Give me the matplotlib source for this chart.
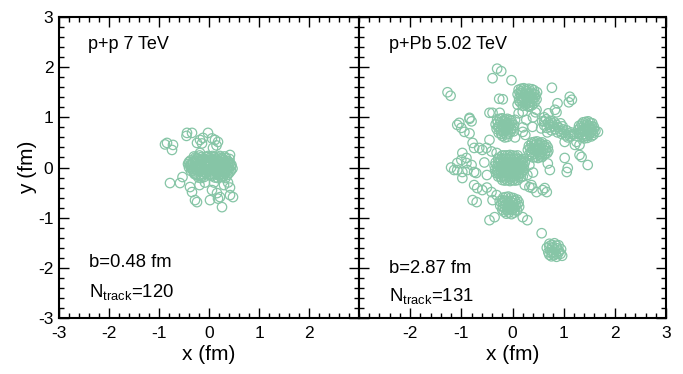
import matplotlib
matplotlib.use("Agg")
import matplotlib.pyplot as plt
from matplotlib.ticker import MultipleLocator

plt.rcParams['font.family'] = ['Liberation Sans', 'DejaVu Sans']
plt.rcParams['mathtext.fontset'] = 'custom'
plt.rcParams['mathtext.rm'] = 'Liberation Sans'
plt.rcParams['axes.unicode_minus'] = False

# ---------------- data (fm) ----------------
pp_core = [(-0.30,0.22),(-0.19,0.24),(-0.06,0.21),(0.07,0.23),(0.19,0.20),(0.31,0.22),
    (-0.37,0.14),(-0.25,0.16),(-0.13,0.13),(-0.02,0.15),(0.11,0.14),(0.23,0.16),(0.35,0.13),(0.41,0.17),
    (-0.42,0.07),(-0.32,0.09),(-0.21,0.06),(-0.08,0.08),(0.03,0.07),(0.15,0.09),(0.27,0.06),(0.38,0.08),(0.45,0.05),
    (-0.40,0.00),(-0.28,0.02),(-0.16,-0.01),(-0.05,0.01),(0.06,0.00),(0.18,0.02),(0.29,-0.01),(0.40,0.01),(0.47,-0.02),
    (-0.36,-0.07),(-0.24,-0.05),(-0.12,-0.08),(-0.01,-0.06),(0.10,-0.07),(0.22,-0.05),(0.33,-0.08),(0.44,-0.06),
    (-0.29,-0.13),(-0.17,-0.14),(-0.06,-0.12),(0.05,-0.14),(0.16,-0.12),(0.27,-0.13),(0.37,-0.15),
    (-0.21,-0.20),(-0.10,-0.19),(0.12,-0.20),(0.24,-0.19),(0.33,-0.21),
    (-0.24,0.19),(-0.12,0.18),(0.01,0.19),(0.13,0.18),(0.25,0.19),
    (-0.33,0.11),(-0.19,0.10),(-0.04,0.11),(0.09,0.11),(0.21,0.12),(0.32,0.10),
    (-0.36,0.04),(-0.10,0.04),(0.12,0.04),(0.34,0.04),
    (-0.33,-0.03),(-0.20,-0.03),(0.00,-0.03),(0.24,-0.02),(0.36,-0.03),
    (-0.30,-0.10),(-0.07,-0.10),(0.15,-0.09),(0.29,-0.10),(0.41,-0.10),
    (-0.15,-0.17),(0.06,-0.17),(0.20,-0.16)]
pp_core2 = [(-0.27,0.20),(-0.15,0.21),(-0.02,0.23),(0.10,0.21),(0.22,0.23),(0.34,0.19),
    (-0.40,0.11),(-0.28,0.13),(-0.16,0.15),(-0.06,0.13),(0.06,0.16),(0.17,0.14),(0.29,0.15),(0.39,0.12),
    (-0.38,0.05),(-0.26,0.07),(-0.14,0.06),(-0.01,0.05),(0.10,0.07),(0.21,0.05),(0.32,0.07),(0.42,0.09),
    (-0.35,-0.01),(-0.22,0.00),(-0.10,-0.02),(0.01,0.02),(0.12,-0.01),(0.24,0.01),(0.35,-0.02),(0.44,0.02),
    (-0.32,-0.06),(-0.19,-0.08),(-0.07,-0.05),(0.04,-0.08),(0.16,-0.06),(0.27,-0.07),(0.39,-0.05),
    (-0.25,-0.15),(-0.12,-0.13),(0.00,-0.15),(0.10,-0.13),(0.22,-0.14),(0.32,-0.12),
    (-0.16,-0.21),(0.18,-0.21),(0.28,-0.19)]
pp_halo = [(-0.84,0.49),(-0.88,0.46),(-0.72,0.45),(-0.74,0.35),
    (-0.44,0.69),(-0.34,0.69),(-0.45,0.63),(-0.24,0.49),(-0.18,0.55),(-0.12,0.59),(-0.02,0.69),
    (0.12,0.55),(0.18,0.51),(-0.14,0.48),(0.06,0.58),(-0.18,0.29),(0.08,0.39),(-0.04,0.21),(0.42,0.25),(0.15,0.44),
    (-0.78,-0.31),(-0.58,-0.31),(-0.53,-0.19),(-0.38,-0.39),(-0.34,-0.49),(-0.28,-0.65),(-0.24,-0.69),
    (0.06,-0.45),(0.16,-0.51),(0.22,-0.59),(0.26,-0.79),(0.42,-0.55),(0.48,-0.59),(0.02,-0.65),(0.18,-0.62),
    (0.42,-0.40),(0.30,-0.35),(0.10,-0.30),(-0.08,-0.30),(0.38,-0.30),(-0.19,-0.35)]

ppb_scatter = [(-1.27,1.50),(-1.21,1.43),(-0.30,1.97),(-0.22,1.92),(-0.39,1.78),(-0.02,1.74),
    (0.77,1.59),(-0.26,1.37),(-0.19,1.36),(1.12,1.41),(1.16,1.35),(1.10,1.30),(0.88,1.28),(0.83,1.15),(0.86,1.10),
    (-0.45,1.09),(-0.84,0.99),(-1.04,0.89),(-0.39,1.09),(-0.25,1.09),
    (-1.08,0.85),(-1.00,0.79),(-0.84,0.97),(-0.80,0.92),(-0.94,0.71),(-0.84,0.68),
    (-0.78,0.49),(-0.75,0.39),(-0.65,0.39),(-0.59,0.35),(-0.51,0.39),
    (-0.98,0.29),(-0.90,0.19),(-1.00,0.15),(-1.08,0.09),(-0.90,0.09),(-0.80,0.05),(-1.14,-0.05),(-1.08,-0.05),
    (-0.98,-0.09),(-0.88,-0.05),(-0.75,-0.09),(-0.98,-0.21),(-0.71,-0.11),(-1.20,0.00),
    (-0.69,-0.41),(-0.59,-0.45),(-0.78,-0.65),(-0.41,-0.49),(-0.31,-0.55),(-0.39,-0.65),(-0.75,-0.35),(-0.50,-0.40),(-0.70,-0.69),
    (-0.45,-1.05),(-0.35,-0.99),(0.20,-0.99),(0.29,-1.05),
    (0.39,-0.41),(0.47,-0.49),(0.63,-0.41),(0.67,-0.49),(0.24,-0.35),(0.29,-0.15),(0.37,-0.35),(0.33,-0.39),(0.59,-0.45),
    (0.57,-1.31),(0.73,-0.05),(0.69,0.08),(1.06,-0.09),(1.08,-0.01),(1.47,0.05),(1.31,0.25),(1.02,0.19),
    (1.02,0.51),(1.31,0.45),(1.35,0.21),(1.22,0.45),(1.25,0.51),(1.67,0.71),
    (0.62,1.00),(0.70,1.08),(0.45,1.10),(0.40,1.00),(0.12,1.08),(0.05,0.95),
    (-0.45,0.55),(-0.41,0.32),(-0.31,0.29),(-0.55,0.10),(-0.50,-0.15),(0.33,0.05),(0.40,-0.10),(0.25,0.65),(0.20,0.80),(0.05,0.60),
    (0.20,1.11),(0.33,1.21),(0.47,1.15),(0.27,0.95),(0.39,0.81),(0.20,0.71)]
ppb_blob_a = [(0.12,1.55),(0.22,1.58),(0.32,1.57),(0.42,1.54),(0.10,1.46),(0.19,1.48),(0.28,1.47),(0.37,1.49),(0.45,1.45),
    (0.13,1.38),(0.22,1.39),(0.31,1.40),(0.40,1.38),(0.47,1.36),(0.15,1.30),(0.25,1.31),(0.34,1.30),(0.43,1.29),
    (0.20,1.23),(0.30,1.22),(0.38,1.24),(0.17,1.52),(0.27,1.52),(0.37,1.43),(0.18,1.34),(0.29,1.35),(0.10,1.25),(0.48,1.50),
    (0.17,1.57),(0.27,1.56),(0.38,1.56),(0.14,1.49),(0.24,1.45),(0.33,1.47),(0.42,1.47),(0.17,1.42),(0.27,1.40),
    (0.36,1.38),(0.44,1.40),(0.20,1.31),(0.30,1.28),(0.39,1.31),(0.25,1.25),(0.34,1.23),(0.13,1.33),(0.23,1.36)]
ppb_blob_b = [(-0.30,0.95),(-0.20,0.98),(-0.10,0.97),(-0.02,0.93),(-0.33,0.86),(-0.24,0.88),(-0.14,0.87),(-0.05,0.86),(0.03,0.84),
    (-0.31,0.77),(-0.22,0.78),(-0.12,0.79),(-0.03,0.76),(0.02,0.72),(-0.27,0.69),(-0.17,0.70),(-0.08,0.68),
    (-0.20,0.63),(-0.10,0.61),(-0.26,0.82),(-0.16,0.92),(-0.07,0.81),(-0.18,0.74),
    (-0.25,0.97),(-0.15,0.96),(-0.06,0.95),(-0.29,0.90),(-0.19,0.86),(-0.10,0.89),(-0.01,0.88),(-0.28,0.80),(-0.17,0.81),
    (-0.08,0.77),(0.01,0.79),(-0.23,0.73),(-0.13,0.74),(-0.04,0.71),(-0.22,0.67),(-0.12,0.66),(-0.15,0.60)]
ppb_blob_c = [(-0.20,0.24),(-0.10,0.24),(0.00,0.24),(0.10,0.24),
    (-0.28,0.17),(-0.18,0.17),(-0.08,0.17),(0.03,0.17),(0.13,0.17),(0.20,0.17),
    (-0.33,0.10),(-0.23,0.10),(-0.13,0.10),(-0.03,0.10),(0.07,0.10),(0.17,0.10),(0.24,0.10),
    (-0.35,0.03),(-0.26,0.03),(-0.16,0.03),(-0.06,0.03),(0.04,0.03),(0.14,0.03),(0.22,0.03),
    (-0.34,-0.04),(-0.24,-0.04),(-0.14,-0.04),(-0.04,-0.04),(0.06,-0.04),(0.15,-0.04),(0.23,-0.04),
    (-0.32,-0.11),(-0.22,-0.11),(-0.12,-0.11),(-0.02,-0.11),(0.08,-0.11),(0.18,-0.11),
    (-0.28,-0.18),(-0.18,-0.18),(-0.08,-0.18),(0.02,-0.18),(0.12,-0.18),(0.20,-0.18),
    (-0.20,-0.25),(-0.10,-0.25),(0.00,-0.25),(0.10,-0.25),
    (-0.25,0.20),(-0.05,0.20),(0.15,0.13),(-0.30,-0.08),(-0.10,-0.07),(0.11,-0.14),(-0.15,-0.22),(0.05,-0.22),(-0.20,0.07),(0.00,0.07),(0.19,0.00),
    (-0.15,0.24),(-0.05,0.25),(0.05,0.23),(-0.23,0.16),(-0.13,0.18),(-0.02,0.16),(0.08,0.18),(0.17,0.15),
    (-0.28,0.09),(-0.18,0.11),(-0.08,0.09),(0.02,0.11),(0.12,0.09),(0.21,0.08),
    (-0.30,0.02),(-0.21,0.04),(-0.11,0.02),(-0.01,0.04),(0.09,0.02),(0.18,0.04),
    (-0.29,-0.05),(-0.19,-0.03),(-0.09,-0.05),(0.01,-0.03),(0.11,-0.05),(0.20,-0.06),
    (-0.27,-0.12),(-0.17,-0.10),(-0.07,-0.12),(0.03,-0.10),(0.13,-0.12),
    (-0.23,-0.19),(-0.13,-0.17),(-0.03,-0.19),(0.07,-0.17),(0.16,-0.20),
    (-0.15,-0.26),(-0.05,-0.27),(0.05,-0.26)]
ppb_blob_d = [(-0.18,-0.60),(-0.08,-0.58),(0.02,-0.61),(-0.25,-0.67),(-0.15,-0.66),(-0.05,-0.67),(0.05,-0.66),(0.12,-0.69),
    (-0.24,-0.76),(-0.14,-0.75),(-0.04,-0.76),(0.06,-0.75),(0.13,-0.78),(-0.20,-0.84),(-0.10,-0.85),(0.00,-0.84),(0.09,-0.86),
    (-0.12,-0.92),(-0.02,-0.93),(-0.19,-0.71),(-0.09,-0.71),(0.01,-0.71),(-0.10,-0.80),(0.04,-0.80),
    (-0.13,-0.59),(-0.03,-0.60),(-0.20,-0.65),(-0.10,-0.67),(0.00,-0.66),(0.09,-0.64),(-0.19,-0.78),(-0.09,-0.76),
    (0.01,-0.77),(0.10,-0.73),(-0.15,-0.82),(-0.05,-0.83),(0.05,-0.85),(-0.07,-0.90),(0.03,-0.90),(-0.17,-0.88)]
ppb_blob_e = [(0.38,0.50),(0.48,0.52),(0.58,0.50),(0.32,0.43),(0.42,0.44),(0.52,0.45),(0.62,0.43),(0.69,0.40),
    (0.30,0.35),(0.40,0.36),(0.50,0.35),(0.60,0.36),(0.70,0.33),(0.33,0.27),(0.43,0.27),(0.53,0.26),(0.63,0.27),
    (0.40,0.20),(0.50,0.19),(0.58,0.21),(0.36,0.31),(0.46,0.40),(0.56,0.31),(0.65,0.38),
    (0.43,0.51),(0.53,0.49),(0.37,0.46),(0.47,0.47),(0.57,0.46),(0.66,0.45),(0.35,0.39),(0.45,0.35),
    (0.55,0.39),(0.65,0.33),(0.38,0.25),(0.48,0.29),(0.58,0.26),(0.45,0.21),(0.54,0.22),(0.68,0.29)]
ppb_blob_f = [(1.38,0.90),(1.48,0.92),(1.56,0.88),(1.30,0.83),(1.40,0.84),(1.50,0.83),(1.59,0.81),
    (1.28,0.75),(1.37,0.76),(1.46,0.75),(1.55,0.74),(1.62,0.73),(1.31,0.67),(1.41,0.67),(1.50,0.66),(1.58,0.65),
    (1.36,0.60),(1.46,0.59),(1.34,0.71),(1.44,0.80),(1.53,0.70),(1.43,0.63),
    (1.43,0.91),(1.52,0.89),(1.35,0.86),(1.45,0.86),(1.55,0.82),(1.32,0.79),(1.41,0.77),(1.50,0.78),(1.59,0.76),
    (1.30,0.70),(1.39,0.72),(1.48,0.71),(1.57,0.69),(1.36,0.65),(1.46,0.63),(1.54,0.62),(1.40,0.58)]
ppb_band_g = [(0.58,0.92),(0.66,0.96),(0.74,0.93),(0.82,0.90),(0.62,0.84),(0.72,0.85),(0.80,0.82),(0.90,0.80),(0.98,0.76),
    (1.06,0.74),(1.14,0.70),(0.88,0.70),(0.96,0.67),(1.04,0.64),(1.12,0.62),(0.76,0.74),(0.68,0.70),(1.20,0.66),(0.94,0.88),(0.56,0.78),
    (0.62,0.92),(0.70,0.90),(0.78,0.88),(0.86,0.85),(0.67,0.79),(0.75,0.80),(0.84,0.76),(0.93,0.73),(1.01,0.70),
    (1.09,0.68),(1.17,0.66),(0.98,0.82),(1.08,0.60)]
ppb_blob_h = [(0.72,-1.52),(0.82,-1.51),(0.90,-1.55),(0.67,-1.60),(0.77,-1.60),(0.87,-1.61),(0.95,-1.63),
    (0.70,-1.69),(0.80,-1.69),(0.90,-1.70),(0.76,-1.77),(0.86,-1.78),(0.97,-1.76),(0.72,-1.74),
    (0.77,-1.54),(0.86,-1.56),(0.72,-1.57),(0.82,-1.63),(0.91,-1.66),(0.74,-1.65),(0.85,-1.72),(0.81,-1.75),(0.94,-1.72),(0.77,-1.71)]

pp_points = pp_halo + pp_core + pp_core2
ppb_points = (ppb_scatter + ppb_blob_a + ppb_blob_b + ppb_blob_c + ppb_blob_d
              + ppb_blob_e + ppb_blob_f + ppb_band_g + ppb_blob_h)

left_label = "p+p 7 TeV"
right_label = "p+Pb 5.02 TeV"
left_b = "b=0.48 fm"
right_b = "b=2.87 fm"
left_n = 120
right_n = 131

color = '#86c5a6'

fig = plt.figure(figsize=(6.83, 3.74), dpi=100)
ax1 = fig.add_axes([59/683, 1-318/374, 300/683, 301/374])
ax2 = fig.add_axes([359/683, 1-318/374, 307/683, 301/374])

for ax, pts in ((ax1, pp_points), (ax2, ppb_points)):
    xs = [p[0] for p in pts]
    ys = [p[1] for p in pts]
    ax.scatter(xs, ys, s=46, facecolors='none', edgecolors=color, linewidths=0.9)
    ax.set_xlim(-3, 3)
    ax.set_ylim(-3, 3)
    ax.xaxis.set_major_locator(MultipleLocator(1))
    ax.yaxis.set_major_locator(MultipleLocator(1))
    ax.xaxis.set_minor_locator(MultipleLocator(0.2))
    ax.yaxis.set_minor_locator(MultipleLocator(0.2))
    ax.tick_params(which='both', direction='in', top=True, right=True, width=1.0, labelsize=12.5)
    ax.tick_params(which='major', length=7)
    ax.tick_params(which='minor', length=3.5)
    ax.tick_params(axis='x', pad=6)
    ax.tick_params(axis='y', pad=4)
    for sp in ax.spines.values():
        sp.set_linewidth(1.5)
    ax.set_xlabel("x (fm)", fontsize=15, labelpad=3)

ax1.set_xticks([-3, -2, -1, 0, 1, 2])
ax1.set_xticks([t/5 for t in range(-15, 15)], minor=True)
ax1.set_ylabel("y (fm)", fontsize=15, labelpad=1)
ax2.set_xticks([-2, -1, 0, 1, 2, 3])
ax2.set_xticks([t/5 for t in range(-15, 16)], minor=True)
ax2.tick_params(axis='y', labelleft=False)

ax1.text(0.097, 0.907, left_label, transform=ax1.transAxes, fontsize=13, va='center')
ax2.text(0.098, 0.907, right_label, transform=ax2.transAxes, fontsize=13, va='center')
ax1.text(0.10, 0.183, left_b, transform=ax1.transAxes, fontsize=13.3, va='center')
ax2.text(0.098, 0.166, right_b, transform=ax2.transAxes, fontsize=13.3, va='center')
ax1.text(0.10, 0.085, r"$\mathregular{N_{track}}$=%d" % left_n, transform=ax1.transAxes, fontsize=13.3, va='center')
ax2.text(0.098, 0.072, r"$\mathregular{N_{track}}$=%d" % right_n, transform=ax2.transAxes, fontsize=13.3, va='center')

fig.savefig("out.png", dpi=100)
